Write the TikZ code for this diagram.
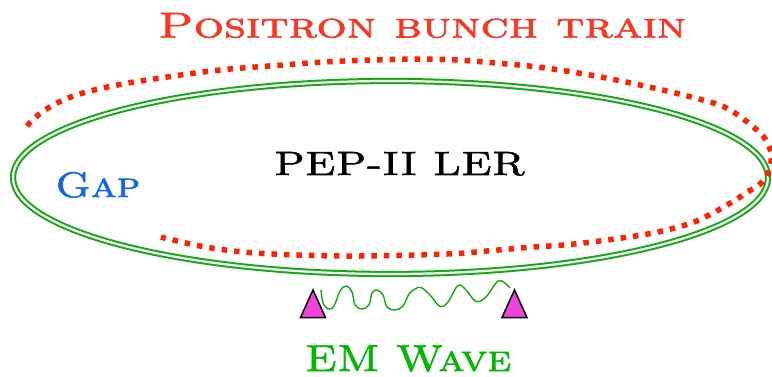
\documentclass[tikz,border=0pt]{standalone}
\usepackage{fontspec}
\usepackage{graphicx}
\newfontfamily\copper{lmromancaps10-regular.otf}[FakeBold=1.6]
\definecolor{titlered}{RGB}{255,51,34}
\definecolor{dotred}{RGB}{255,34,0}
\definecolor{ringgreen}{RGB}{17,170,17}
\definecolor{textgreen}{RGB}{0,185,0}
\definecolor{gapblue}{RGB}{17,102,238}
\definecolor{kickmag}{RGB}{238,68,221}
\tikzset{
  ring/.style={draw=ringgreen, line width=2pt, double=white, double distance=2.2pt},
  bunches/.style={draw=dotred, line width=5.5pt, dash pattern=on 5.5pt off 7pt},
  wavestyle/.style={draw=ringgreen, line width=1.4pt},
  kicker/.style={draw=black, line width=1.5pt, fill=kickmag, line join=miter},
  lbl/.style={inner sep=0pt, anchor=base west}
}
\begin{document}
\begin{tikzpicture}[x=1pt,y=-1pt]
\useasboundingbox (0,0) rectangle (772,377);
% green ring
\draw[ring] (390.5,177.5) ellipse [x radius=377.5pt, y radius=96.5pt];
% red positron bunch train
\draw[bunches] plot[smooth, tension=0.6] coordinates {
 (27,126) (37,116) (57,103) (83,93) (120,84.5) (167,77) (220,70) (283,65)
 (333,61.5) (400,59.3) (447,59.5) (490,62.5) (540,67.3) (590,75) (640,85)
 (690,96.7) (727,108.3) (757,130) (767,142) (771,153) (771,162) (767,175)
 (758,186) (747,192) (737,199) (713,213) (690,223.5) (653,233) (607,240)
 (567,244.7) (530,247.3) (487,251) (447,254) (360,256) (297,255) (247,252.3)
 (207,247.3) (170,239.3) (161,237)};
% kicker triangles
\coordinate (kl) at (313,290);
\coordinate (kr) at (514.5,290);
\draw[kicker] (kl) -- ++(-12.5,27.5) -- ++(25,0) -- cycle;
\draw[kicker] (kr) -- ++(-12.5,27.5) -- ++(25,0) -- cycle;
% EM wave
\draw[wavestyle] plot[smooth, tension=0.6] coordinates {
 (321,290) (323,303) (328,309) (334,306) (340,291) (346,286) (352,292)
 (355,305) (362,309) (369,305) (372,293) (377,290) (383,295) (387,307)
 (395,310) (403,306) (409,294) (415,289) (421,287.5) (430,295) (440,306.5)
 (448,302) (458,285.5) (466,290) (476,301.5) (486,297) (496,283) (502,281)
 (510,288)};
% labels
\node[lbl, text=titlered] (title) at (158,37.5) {\resizebox{528pt}{24.5pt}{\copper Positron bunch train}};
\node[lbl, text=black] (ler) at (274,175) {\resizebox{251pt}{23pt}{\copper PEP-II LER}};
\node[lbl, text=gapblue] (gap) at (55,197) {\resizebox{85pt}{25pt}{\copper Gap}};
\node[lbl, text=textgreen] (em) at (305,371) {\resizebox{206pt}{25.5pt}{\copper EM Wave}};
\end{tikzpicture}
\end{document}
